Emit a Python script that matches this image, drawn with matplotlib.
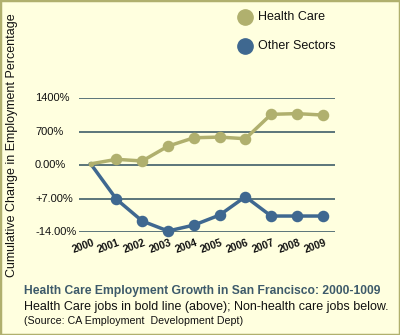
import matplotlib
matplotlib.use("Agg")
import matplotlib.pyplot as plt
from matplotlib.patches import Rectangle
import matplotlib.transforms as mtransforms

years = [2000, 2001, 2002, 2003, 2004, 2005, 2006, 2007, 2008, 2009]
health_care = [30, 125, 90, 400, 575, 590, 555, 1065, 1080, 1050]
other_sectors = [30, -710, -1165, -1373, -1250, -1040, -656, -1060, -1060, -1060]
y_ticks = [1400, 700, 0, -700, -1400]
y_tick_labels = ["1400%", "700%", "0.00%", "+7.00%", "-14.00%"]
series_names = ["Health Care", "Other Sectors"]

BG = "#FFFFDF"
OLIVE = "#B0B06E"
BLUE = "#3F6890"
GRID = "#2F4F5F"
FONT = "Liberation Sans"

W, H = 400, 335
fig = plt.figure(figsize=(W / 100, H / 100), dpi=100, facecolor=BG)

def fx(px):
    return px / W

def fy(py):
    return 1 - py / H

# border
fig.patches.append(Rectangle((0, 0), 1, 1, transform=fig.transFigure,
                             fill=False, edgecolor=OLIVE, linewidth=2.5))

ax = fig.add_axes([fx(79), fy(232.3), fx(335) - fx(79), fy(98.3) - fy(232.3)])
ax.set_facecolor(BG)
ax.patch.set_alpha(0)
for s in ax.spines.values():
    s.set_visible(False)
ax.set_xlim(1999.546, 2009.477)
ax.set_ylim(-1400, 1400)
ax.set_xticks([])
ax.set_yticks([])

for t in y_ticks:
    ax.axhline(t, color=GRID, linewidth=1.1, zorder=1)

ax.plot(years, health_care, color=OLIVE, linewidth=2.5, marker="o",
        markersize=7.3, markevery=list(range(1, len(years))), zorder=3, clip_on=False)
ax.plot(years, other_sectors, color=BLUE, linewidth=2.5, marker="o",
        markersize=7.3, markevery=list(range(1, len(years))), zorder=3, clip_on=False)
ax.plot([years[0]], [health_care[0]], color=OLIVE, marker="o", markersize=3,
        zorder=4, clip_on=False)

# y tick labels (left aligned)
trans_y = mtransforms.blended_transform_factory(fig.transFigure, ax.transData)
for t, lab in zip(y_ticks, y_tick_labels):
    ax.text(fx(35), t, lab, transform=trans_y, ha="left", va="center",
            fontsize=8, family=FONT, color="#111111")

# x tick labels (rotated)
trans_x = mtransforms.blended_transform_factory(ax.transData, fig.transFigure)
for yr in years:
    ax.text(yr - 0.3, fy(246.5), str(yr), transform=trans_x, ha="center",
            va="center", rotation=20, fontsize=7.5, family=FONT,
            fontweight="bold", color="#111111")

# y axis label
fig.text(fx(12), fy(145), "Cumulative Change in Employment Percentage",
         rotation=90, ha="center", va="center", fontsize=9, family=FONT,
         color="#111111")

# legend
for name, col, py in zip(series_names, [OLIVE, BLUE], [17, 46]):
    fig.lines.append(plt.Line2D([fx(245)], [fy(py)], marker="o", markersize=11,
                                color=col, transform=fig.transFigure))
    fig.text(fx(258), fy(py), name, ha="left", va="center", fontsize=9,
             family=FONT, color="#111111")

# captions
fig.text(fx(24), fy(291), "Health Care Employment Growth in San Francisco: 2000-1009",
         ha="left", va="center", fontsize=8.7, family=FONT, fontweight="bold",
         color="#3D5A6A")
fig.text(fx(24), fy(307), "Health Care jobs in bold line (above); Non-health care jobs below.",
         ha="left", va="center", fontsize=9, family=FONT, color="#111111")
fig.text(fx(24), fy(321), "(Source: CA Employment  Development Dept)",
         ha="left", va="center", fontsize=7.7, family=FONT, color="#111111")

fig.savefig("out.png", dpi=100, facecolor=BG)
